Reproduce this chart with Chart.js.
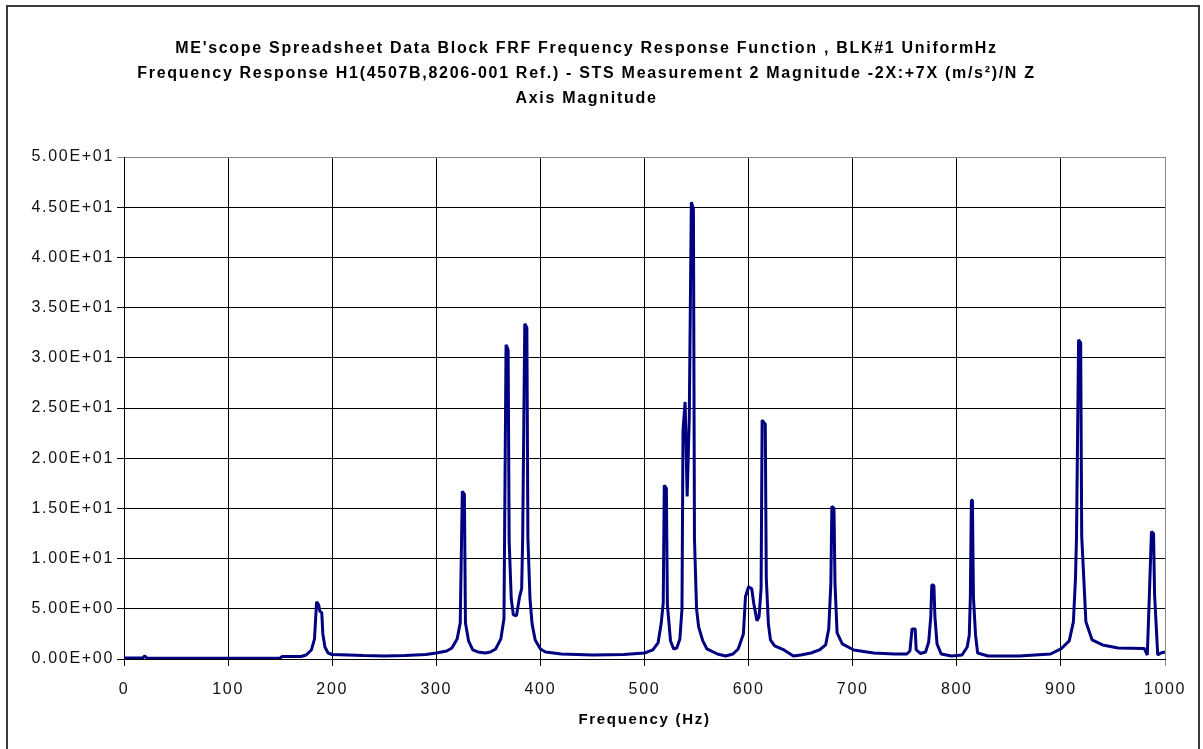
<!DOCTYPE html>
<html>
<head>
<meta charset="utf-8">
<title>FRF Magnitude</title>
<script src="https://cdn.jsdelivr.net/npm/chart.js@4"></script>
<style>
    html, body { margin: 0; padding: 0; background: #fff; }
    #wrap { position: relative; width: 1203px; height: 749px; overflow: hidden; }
    #frame { position: absolute; left: 6px; top: 5px; width: 1190px; height: 800px;
             border: 2px solid #3a3a3a; pointer-events: none; }
</style>
</head>
<body>
<div id="wrap">
    <canvas id="frfChart" width="1203" height="749"></canvas>
    <div id="frame"></div>
</div>
<script>
// Chart text
const titleLines = [
    "ME'scope Spreadsheet Data Block FRF Frequency Response Function , BLK#1 UniformHz",
    'Frequency Response H1(4507B,8206-001 Ref.) - STS Measurement 2 Magnitude -2X:+7X (m/s\u00b2)/N Z',
    'Axis Magnitude'
];
const xAxisTitle = 'Frequency (Hz)';
const yTickLabels = ['0.00E+00', '5.00E+00', '1.00E+01', '1.50E+01', '2.00E+01', '2.50E+01',
                     '3.00E+01', '3.50E+01', '4.00E+01', '4.50E+01', '5.00E+01'];

// Spectrum (Hz / magnitude), grouped by band
const freqHz = [
    0, 10, 18, 20, 22, 50, 100, 150, 152, 170, 175, 180, 183, 185, 187, 188, 190, 191, 193, 196, 200,
    230, 250, 270, 290, 300, 310, 315, 320, 323, 325, 327, 328, 331, 335, 340, 347, 352, 357, 362, 365,
    367, 369, 370, 372, 374, 377, 380, 382, 383, 385, 387, 388, 390, 392, 395, 400,
    405, 420, 450, 480, 500, 508, 513, 516, 518, 519, 521, 522, 525, 528, 531, 534, 536, 537, 539, 541, 543, 545, 547, 548, 550, 552, 556, 560,
    570, 578, 585, 590, 595, 597, 600, 603, 605, 608, 610, 612, 613, 616, 617, 619, 621, 625, 634, 643, 650, 660, 668, 674, 677, 679, 680, 682, 683, 685, 690, 701,
    720, 740, 752, 755, 757, 760, 761, 765, 770, 773, 775, 776, 778, 779, 781, 785, 795, 805, 810, 812, 813, 814, 815, 816, 818, 820, 830,
    860, 890, 900, 908, 912, 914, 915, 917, 919, 920, 922, 924, 930, 940, 955, 980, 983, 985, 987, 989, 990, 993, 996, 1000
];
const magnitude = [
    0.1, 0.1, 0.12, 0.3, 0.1, 0.08, 0.08, 0.1, 0.25, 0.25, 0.4, 0.9, 2.0, 5.7, 5.4, 4.8, 4.6, 2.5, 1.2, 0.6, 0.45,
    0.35, 0.3, 0.35, 0.45, 0.6, 0.8, 1.1, 2.0, 3.6, 16.7, 16.4, 3.6, 1.8, 0.9, 0.7, 0.6, 0.7, 1.0, 2.0, 4.0,
    31.3, 30.8, 11.7, 6.0, 4.4, 4.3, 6.2, 7.0, 12.2, 33.4, 33.0, 12.0, 6.0, 3.5, 1.9, 1.0,
    0.7, 0.5, 0.4, 0.45, 0.6, 0.9, 1.6, 3.5, 5.6, 17.3, 17.0, 5.4, 1.8, 1.0, 1.1, 2.0, 5.0, 22.8, 25.6, 16.2, 24.0, 45.5, 44.8, 12.0, 5.0, 3.2, 1.8, 1.0,
    0.5, 0.3, 0.5, 1.0, 2.5, 6.2, 7.2, 7.0, 5.5, 3.8, 4.2, 7.0, 23.8, 23.4, 8.0, 3.5, 1.9, 1.3, 0.9, 0.3, 0.4, 0.6, 0.9, 1.4, 3.0, 7.5, 15.2, 15.0, 7.5, 2.6, 1.5, 0.9,
    0.6, 0.5, 0.5, 0.8, 3.0, 3.0, 0.9, 0.55, 0.7, 1.7, 4.2, 7.4, 7.3, 4.2, 1.5, 0.5, 0.3, 0.4, 1.2, 2.4, 6.1, 15.8, 15.8, 6.1, 2.4, 0.6, 0.3,
    0.3, 0.5, 1.0, 1.8, 3.7, 8.0, 12.2, 31.8, 31.5, 12.2, 8.0, 3.7, 1.9, 1.4, 1.1, 1.05, 0.4, 6.4, 12.7, 12.5, 6.4, 0.4, 0.6, 0.7
];

const FONT = 'Liberation Sans, Arial, sans-serif';

// Excel-ish wide text spacing
const letterSpacingPlugin = {
    id: 'letterSpacing',
    beforeLayout: function(chart) { chart.ctx.letterSpacing = '1.7px'; },
    beforeDraw: function(chart) { chart.ctx.letterSpacing = '1.7px'; }
};

function initializeFRFChart() {
    const ctx = document.getElementById('frfChart').getContext('2d');

    new Chart(ctx, {
        type: 'line',
        data: {
            datasets: [{
                label: 'Magnitude',
                data: freqHz.map((f, i) => ({ x: f, y: magnitude[i] })),
                borderColor: '#000080',
                borderWidth: 3,
                borderJoinStyle: 'bevel',
                pointRadius: 0,
                tension: 0,
                fill: false
            }]
        },
        options: {
            responsive: false,
            animation: false,
            layout: { padding: { left: 8, right: 38, top: 0, bottom: 10 } },
            plugins: {
                legend: { display: false },
                tooltip: { enabled: false },
                title: {
                    display: true,
                    text: titleLines,
                    color: '#000',
                    font: { family: FONT, size: 16, weight: 'bold', lineHeight: 1.5625 },
                    padding: { top: 36, bottom: 46 }
                }
            },
            scales: {
                x: {
                    type: 'linear',
                    min: 0,
                    max: 1000,
                    afterFit: function(scale) { scale.height = 80; },
                    ticks: {
                        stepSize: 100,
                        color: '#111',
                        padding: 14,
                        maxRotation: 0,
                        font: { family: FONT, size: 16 },
                        callback: function(value) { return String(value); }
                    },
                    grid: {
                        color: function(c) { return c.tick && c.tick.value === 1000 ? '#888' : '#000'; },
                        lineWidth: 1,
                        tickLength: 7
                    },
                    border: { display: true, color: '#000', width: 1 },
                    title: {
                        display: true,
                        text: xAxisTitle,
                        color: '#000',
                        font: { family: FONT, size: 15, weight: 'bold' },
                        padding: { top: 0, bottom: 10 }
                    }
                },
                y: {
                    min: 0,
                    max: 50,
                    afterFit: function(scale) { scale.width = 116; },
                    ticks: {
                        stepSize: 5,
                        color: '#111',
                        padding: 3,
                        font: { family: FONT, size: 16 },
                        callback: function(value, index) { return yTickLabels[index]; }
                    },
                    grid: {
                        color: function(c) { return c.tick && c.tick.value === 50 ? '#888' : '#000'; },
                        lineWidth: 1,
                        tickLength: 7
                    },
                    border: { display: true, color: '#000', width: 1 }
                }
            }
        },
        plugins: [letterSpacingPlugin]
    });
}

initializeFRFChart();
</script>
</body>
</html>
